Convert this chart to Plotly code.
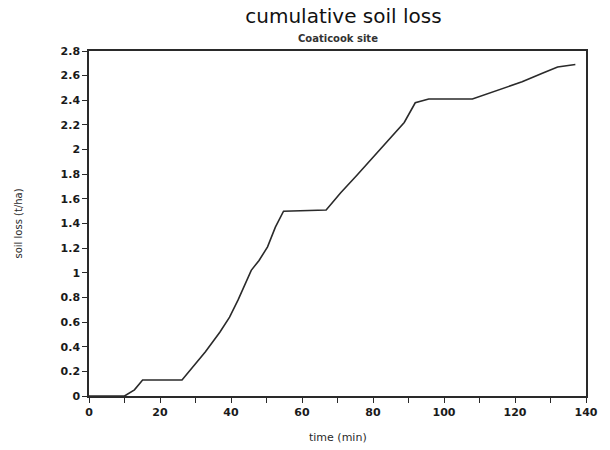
import plotly.graph_objects as go

# cumulative soil loss, Coaticook site
time_min = [0, 10, 12.8, 15.1, 26.2, 29.7, 32.8, 36.9, 39.6, 42.0, 45.7, 47.9,
            50.3, 52.5, 54.8, 66.8, 70.9, 75.4, 80.0, 84.6, 88.8, 91.9, 95.7,
            108.0, 113.0, 122.0, 127.7, 132.0, 137.0]
soil_loss = [0, 0, 0.05, 0.13, 0.13, 0.25, 0.36, 0.52, 0.64, 0.78, 1.02, 1.10,
             1.21, 1.37, 1.50, 1.51, 1.65, 1.79, 1.94, 2.09, 2.22, 2.38, 2.41,
             2.41, 2.46, 2.55, 2.62, 2.67, 2.69]

y_ticks = [0, 0.2, 0.4, 0.6, 0.8, 1, 1.2, 1.4, 1.6, 1.8, 2, 2.2, 2.4, 2.6, 2.8]
y_labels = ["0", "0.2", "0.4", "0.6", "0.8", "1", "1.2", "1.4", "1.6", "1.8",
            "2", "2.2", "2.4", "2.6", "2.8"]
x_ticks = list(range(0, 141, 10))
x_labels = [str(v) if v % 20 == 0 else "" for v in x_ticks]

ink = "#2a2a2a"
font = "DejaVu Sans"

fig = go.Figure()
fig.add_trace(go.Scatter(x=time_min, y=soil_loss, mode="lines",
                         line=dict(color=ink, width=1.6), hoverinfo="skip"))

fig.update_layout(
    width=610, height=450,
    margin=dict(l=89, r=12, t=51, b=54),
    paper_bgcolor="white", plot_bgcolor="white",
    showlegend=False,
    font=dict(family=font, color=ink, size=11),
    title=dict(text="cumulative soil loss", x=0.563, xanchor="center",
               y=0.965, yanchor="middle",
               font=dict(family=font, size=20, color="#111")),
)

tick_font = dict(family=font, size=11, color="#1a1a1a", weight="bold")

fig.update_xaxes(
    range=[0, 140], tickvals=x_ticks, ticktext=x_labels,
    ticks="outside", ticklen=5, tickwidth=1.2, tickcolor=ink,
    showline=True, linecolor=ink, linewidth=1.5, mirror=True,
    showgrid=False, zeroline=False, tickfont=tick_font,
)
fig.update_yaxes(
    range=[0, 2.8], tickvals=y_ticks, ticktext=y_labels,
    ticks="outside", ticklen=5, tickwidth=1.2, tickcolor=ink,
    showline=True, linecolor=ink, linewidth=1.5, mirror=True,
    showgrid=False, zeroline=False, tickfont=tick_font,
)

fig.add_annotation(text="<b>Coaticook site</b>", xref="paper", yref="paper",
                   x=0.5, y=1.0, yanchor="middle", yshift=13, showarrow=False,
                   font=dict(family=font, size=10, color="#333"))
fig.add_annotation(text="time (min)", xref="paper", yref="paper",
                   x=0.5, y=0, yanchor="middle", yshift=-41, showarrow=False,
                   font=dict(family=font, size=11, color=ink))
fig.add_annotation(text="soil loss (t/ha)", xref="paper", yref="paper",
                   x=0, xanchor="center", xshift=-71, y=0.5, yanchor="middle",
                   textangle=-90, showarrow=False,
                   font=dict(family=font, size=10, color=ink))

fig.write_html("out.html")
